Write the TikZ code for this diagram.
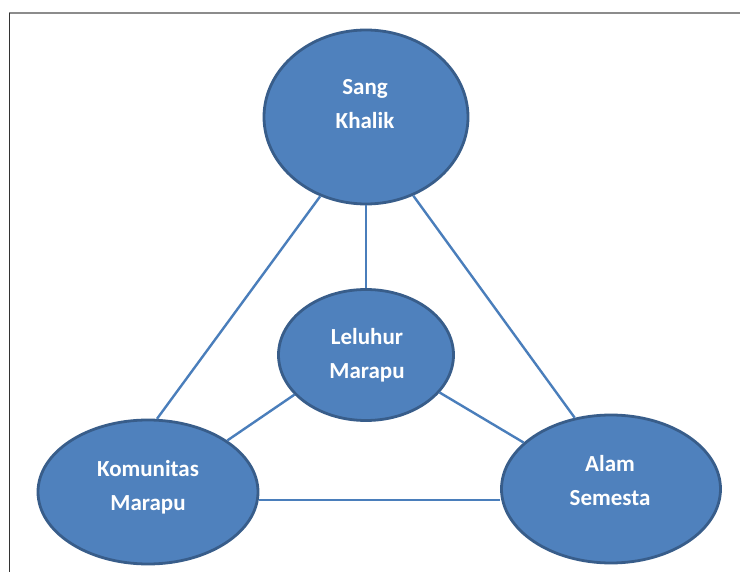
\documentclass[tikz,border=0pt]{standalone}
\usepackage{fontspec}
\setmainfont{Carlito}
\usetikzlibrary{shapes.geometric}
\definecolor{ovfill}{HTML}{4F81BD}
\definecolor{ovdraw}{HTML}{385D8A}
\definecolor{lnblue}{HTML}{4A7EBB}
\tikzset{
  oval/.style={ellipse, fill=ovfill, draw=ovdraw, line width=2.8pt, inner sep=0pt},
  lbl/.style={text=white, font=\bfseries\fontsize{23}{34}\selectfont, align=center, inner sep=0pt},
  link/.style={draw=lnblue, line width=2.4pt},
  frame/.style={line width=1.5pt}
}
\begin{document}
\begin{tikzpicture}[x=1pt,y=-1pt]
\useasboundingbox (0,0) rectangle (740,572);
\fill[white] (0,0) rectangle (740,572);
\draw[frame, draw=gray!90] (9,13) -- (740,13);
\draw[frame, draw=black!80] (9.5,13) -- (9.5,572);

\node[oval, minimum width=204pt, minimum height=174pt] (sk) at (366,117) {};
\node[oval, minimum width=175pt, minimum height=131pt] (lm) at (366,355) {};
\node[oval, minimum width=220pt, minimum height=144pt] (km) at (148,492) {};
\node[oval, minimum width=219pt, minimum height=148pt] (as) at (611,489) {};

\node[lbl] (skt) at (365,104) {Sang\\Khalik};
\node[lbl] (lmt) at (367,355) {Leluhur\\Marapu};
\node[lbl] (kmt) at (148,487) {Komunitas\\Marapu};
\node[lbl] (ast) at (610,481) {Alam\\Semesta};

\draw[link] (sk.240) -- (km.83);
\draw[link] (sk.270) -- (lm.90);
\draw[link] (sk.301.5) -- (as.117.8);
\draw[link] (lm.209) -- (km.33.4);
\draw[link] (lm.333) -- (as.152.7);
\draw[link] (km.-4) -- (km.-4 -| as.west);
\end{tikzpicture}
\end{document}
